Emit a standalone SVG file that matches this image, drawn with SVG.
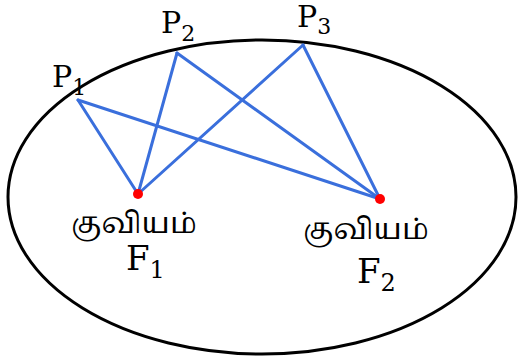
<svg xmlns="http://www.w3.org/2000/svg" width="522" height="360" viewBox="0 0 522 360">
<style>
.ta{font-family:'Noto Serif Tamil','Noto Sans Tamil',sans-serif;fill:#000}
.sf{font-family:'DejaVu Serif','Liberation Serif',serif;fill:#000}
.ln{stroke:#3a6fdc;stroke-width:3;fill:none;stroke-linecap:round}
</style>
<rect width="522" height="360" fill="#fff"/>
<g id="ellipse"><ellipse cx="262" cy="197" rx="254" ry="157" fill="none" stroke="#000" stroke-width="3"/></g>
<g id="connectors">
<line class="ln" x1="78" y1="100" x2="138" y2="194"/>
<line class="ln" x1="78" y1="100" x2="380" y2="199"/>
<line class="ln" x1="177" y1="53" x2="138" y2="194"/>
<line class="ln" x1="177" y1="53" x2="380" y2="199"/>
<line class="ln" x1="303" y1="45" x2="138" y2="194"/>
<line class="ln" x1="303" y1="45" x2="380" y2="199"/>
</g>
<g id="P1"><text class="sf" x="52" y="87" font-size="30">P<tspan font-size="22" dy="8">1</tspan></text></g>
<g id="P2"><text class="sf" x="161" y="33" font-size="30">P<tspan font-size="22" dy="8">2</tspan></text></g>
<g id="P3"><text class="sf" x="297" y="27" font-size="30">P<tspan font-size="22" dy="7">3</tspan></text></g>
<g id="F1"><circle cx="138" cy="194" r="5" fill="#f00"/>
<text class="ta" x="134" y="233" font-size="29" text-anchor="middle">குவியம்</text>
<text class="sf" x="126" y="270" font-size="34">F<tspan font-size="24" dy="8">1</tspan></text></g>
<g id="F2"><circle cx="380" cy="199" r="5" fill="#f00"/>
<text class="ta" x="366" y="239" font-size="29" text-anchor="middle">குவியம்</text>
<text class="sf" x="357" y="283" font-size="34">F<tspan font-size="24" dy="8">2</tspan></text></g>
</svg>
